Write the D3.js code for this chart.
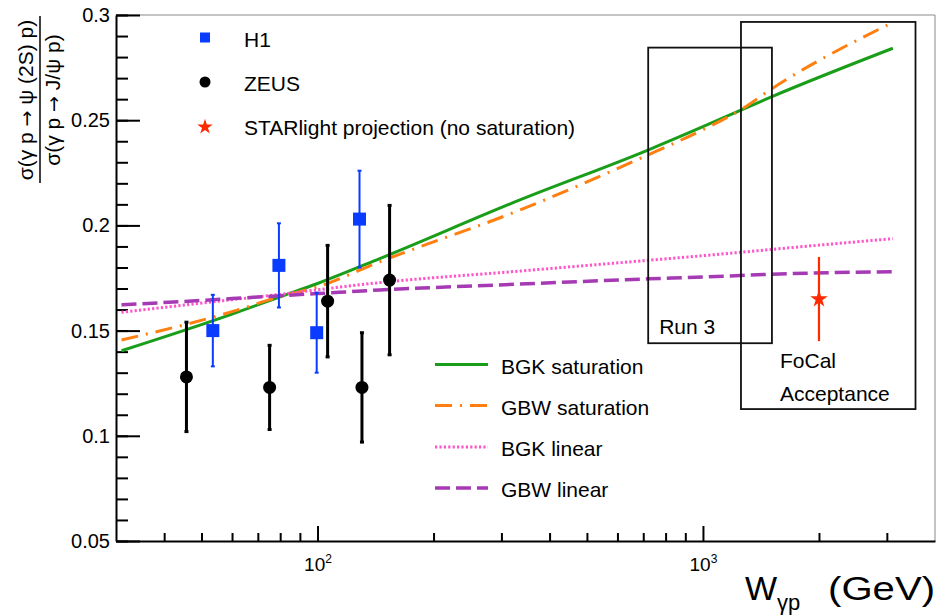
<!DOCTYPE html>
<html>
<head>
<meta charset="utf-8">
<script src="https://cdn.jsdelivr.net/npm/d3@7"></script>
<style>
  html, body { margin: 0; padding: 0; background: #fff; }
  svg text { font-family: "Liberation Sans", Arial, Helvetica, sans-serif; fill: #000; }
</style>
</head>
<body>
<svg id="chart" width="951" height="616"></svg>
<script>
// ---- measurements: ratio sigma(psi(2S)) / sigma(J/psi) vs W_gamma p ----
const h1W     = [53.5, 79.4, 99.5, 128.5];
const h1Ratio = [0.150, 0.181, 0.149, 0.203];
const h1Err   = [0.017, 0.020, 0.019, 0.023];

const zeusW     = [45.7, 75.1, 106.2, 130.4, 153.8];
const zeusRatio = [0.128, 0.123, 0.164, 0.123, 0.174];
const zeusErr   = [0.026, 0.020, 0.0265, 0.026, 0.0355];

const starlightW     = [2000];
const starlightRatio = [0.165];
const starlightErr   = [0.020];

// ---- model predictions, sampled in W ----
const modelW        = [31, 60, 80, 100, 145, 335, 720, 1000, 1250, 1510, 3110];
const bgkSaturation = [0.1404, 0.1578, 0.1661, 0.1724, 0.1842, 0.2121, 0.2358, 0.2469, 0.2547, 0.2612, 0.2842];
const gbwSaturation = [0.1455, 0.1590, 0.1662, 0.1708, 0.1827, 0.2073, 0.2335, 0.2455, 0.2548, 0.2650, 0.2965];
const bgkLinear     = [0.1587, 0.1647, 0.1672, 0.1694, 0.1728, 0.1783, 0.1834, 0.1856, 0.1872, 0.1886, 0.1937];
const gbwLinear     = [0.1622, 0.1652, 0.1666, 0.1676, 0.1693, 0.1721, 0.1746, 0.1755, 0.1762, 0.1768, 0.1780];

// ---- axis ticks ----
const xMajorTicks = [100, 1000];
const xMinorTicks = [40, 50, 60, 70, 80, 90, 200, 300, 400, 500, 600, 700, 800, 900, 2000, 3000];
const yMajorTicks = [0.05, 0.1, 0.15, 0.2, 0.25, 0.3];
const yMinorTicks = d3.range(5, 31).map(v => v / 100);

// ---- highlighted W regions [wLo, wHi, ratioLo, ratioHi] ----
const run3Region  = [721, 1510, 0.144, 0.2845];
const focalRegion = [1255, 3560, 0.1127, 0.2967];

const svg = d3.select("#chart");
const plot = { left: 116, right: 935, top: 15, bottom: 541 };

const x = d3.scaleLog().domain([30, 4000]).range([plot.left, plot.right]);
const y = d3.scaleLinear().domain([0.05, 0.3]).range([plot.bottom, plot.top]);

const colors = {
  h1: "#0a3cff",
  zeus: "#000000",
  star: "#ff2a00",
  bgkSat: "#1a9e1a",
  gbwSat: "#ff7f10",
  bgkLin: "#ff55c8",
  gbwLin: "#a63ab4"
};

const models = [
  { name: "BGK saturation", values: bgkSaturation, color: colors.bgkSat, dash: null, width: 3 },
  { name: "GBW saturation", values: gbwSaturation, color: colors.gbwSat, dash: "17,8,2,8", width: 3 },
  { name: "BGK linear",     values: bgkLinear,     color: colors.bgkLin, dash: "2.2,2.2", width: 3 },
  { name: "GBW linear",     values: gbwLinear,     color: colors.gbwLin, dash: "15,6", width: 3.5 }
];

// ---- frame (top and right edges) ----
svg.append("path")
  .attr("d", `M${plot.left},${plot.top}H${plot.right}V${plot.bottom}`)
  .attr("fill", "none").attr("stroke", "#8a8a8a").attr("stroke-width", 1);

// ---- y axis ----
const yMinorAxis = d3.axisLeft(y).tickValues(yMinorTicks).tickSize(-12).tickFormat("");
const yMajorAxis = d3.axisLeft(y).tickValues(yMajorTicks).tickSize(-24).tickSizeOuter(0)
  .tickPadding(6).tickFormat(d3.format("~g"));

const gyMinor = svg.append("g").attr("transform", `translate(${plot.left},0)`).call(yMinorAxis);
gyMinor.select(".domain").remove();
const gy = svg.append("g").attr("transform", `translate(${plot.left},0)`).call(yMajorAxis);
[gyMinor, gy].forEach(g => g.selectAll("line").attr("stroke", "#000").attr("stroke-width", 2));
gy.select(".domain").attr("stroke", "#000").attr("stroke-width", 2);
gy.selectAll("text").attr("font-size", 20).attr("font-family", "Liberation Sans, Arial, sans-serif");

// ---- x axis ----
const xMinorAxis = d3.axisBottom(x).tickValues(xMinorTicks).tickSize(-8).tickFormat("");
const xMajorAxis = d3.axisBottom(x).tickValues(xMajorTicks).tickSize(-15).tickSizeOuter(0)
  .tickPadding(17).tickFormat("");

const gxMinor = svg.append("g").attr("transform", `translate(0,${plot.bottom})`).call(xMinorAxis);
gxMinor.select(".domain").remove();
const gx = svg.append("g").attr("transform", `translate(0,${plot.bottom})`).call(xMajorAxis);
[gxMinor, gx].forEach(g => g.selectAll("line").attr("stroke", "#000").attr("stroke-width", 2));
gx.select(".domain").attr("stroke", "#000").attr("stroke-width", 2);
gx.selectAll(".tick text").each(function (d) {
  const t = d3.select(this).attr("font-size", 19).attr("font-family", "Liberation Sans, Arial, sans-serif")
    .attr("dy", null).attr("y", 30);
  t.text(null);
  t.append("tspan").text("10");
  t.append("tspan").attr("font-size", 12).attr("dy", -8).text(Math.round(Math.log10(d)));
});

// ---- axis titles ----
const xTitle = svg.append("g").attr("font-family", "Liberation Sans, Arial, sans-serif");
const wText = xTitle.append("text").attr("x", 745).attr("y", 600);
wText.append("tspan").attr("font-size", 34).text("W");
wText.append("tspan").attr("font-size", 22).attr("dy", 10).text("γp");
xTitle.append("text").attr("transform", "translate(935,600) scale(1.18,1)")
  .attr("font-size", 34).attr("text-anchor", "end").text("(GeV)");

const arrow = "DejaVu Sans, sans-serif";
const yTitle = svg.append("g").attr("font-size", 21);
const num = yTitle.append("text").attr("transform", "translate(33,100) rotate(-90)")
  .attr("text-anchor", "middle");
num.append("tspan").text("σ(γ p ");
num.append("tspan").attr("font-family", arrow).attr("font-size", 19).text("→");
num.append("tspan").text(" ψ (2S) p)");
const den = yTitle.append("text").attr("transform", "translate(60,100) rotate(-90)")
  .attr("text-anchor", "middle");
den.append("tspan").text("σ(γ p ");
den.append("tspan").attr("font-family", arrow).attr("font-size", 19).text("→");
den.append("tspan").text(" J/ψ p)");
yTitle.append("line").attr("x1", 40).attr("x2", 40).attr("y1", 16).attr("y2", 183)
  .attr("stroke", "#000").attr("stroke-width", 1.5);

// ---- model curves ----
const line = d3.line().curve(d3.curveMonotoneX);
const curves = svg.append("g").attr("fill", "none").attr("stroke-linecap", "butt");
models.forEach(m => {
  curves.append("path")
    .attr("d", line(modelW.map((w, i) => [x(w), y(m.values[i])])))
    .attr("stroke", m.color).attr("stroke-width", m.width)
    .attr("stroke-dasharray", m.dash);
});

// ---- highlighted regions ----
const regions = svg.append("g").attr("fill", "none").attr("stroke", "#111").attr("stroke-width", 1.8);
[run3Region, focalRegion].forEach(r => {
  regions.append("rect")
    .attr("x", x(r[0])).attr("y", y(r[3]))
    .attr("width", x(r[1]) - x(r[0])).attr("height", y(r[2]) - y(r[3]));
});
const regionLabels = svg.append("g").attr("font-size", 21);
regionLabels.append("text").attr("x", x(run3Region[0]) + 11).attr("y", 334).text("Run 3");
regionLabels.append("text").attr("x", 780).attr("y", 368).text("FoCal");
regionLabels.append("text").attr("x", 780).attr("y", 401).text("Acceptance");

// ---- error bars ----
function errorBars(ws, vals, errs, color, width, cap) {
  const g = svg.append("g").attr("stroke", color).attr("stroke-width", width);
  ws.forEach((w, i) => {
    const cx = x(w), yLo = y(vals[i] - errs[i]), yHi = y(vals[i] + errs[i]);
    g.append("line").attr("x1", cx).attr("x2", cx).attr("y1", yLo).attr("y2", yHi);
    if (cap > 0) {
      g.append("line").attr("x1", cx - cap / 2).attr("x2", cx + cap / 2).attr("y1", yLo).attr("y2", yLo);
      g.append("line").attr("x1", cx - cap / 2).attr("x2", cx + cap / 2).attr("y1", yHi).attr("y2", yHi);
    }
  });
}
errorBars(h1W, h1Ratio, h1Err, colors.h1, 2, 4);
errorBars(zeusW, zeusRatio, zeusErr, colors.zeus, 3, 4);
errorBars(starlightW, starlightRatio, starlightErr, colors.star, 2.2, 0);

// ---- markers ----
const sq = 13;
svg.append("g").selectAll("rect").data(h1W).join("rect")
  .attr("x", (w) => x(w) - sq / 2).attr("y", (w, i) => y(h1Ratio[i]) - sq / 2)
  .attr("width", sq).attr("height", sq).attr("fill", colors.h1);
svg.append("g").selectAll("circle").data(zeusW).join("circle")
  .attr("cx", (w) => x(w)).attr("cy", (w, i) => y(zeusRatio[i])).attr("r", 6.5)
  .attr("fill", colors.zeus);
const starSym = d3.symbol().type(d3.symbolStar).size(95);
svg.append("g").selectAll("path").data(starlightW).join("path")
  .attr("transform", (w, i) => `translate(${x(w)},${y(starlightRatio[i])})`)
  .attr("d", starSym).attr("fill", colors.star);

// ---- data legend ----
const dataLegend = svg.append("g").attr("font-size", 21);
dataLegend.append("rect").attr("x", 200).attr("y", 32.5).attr("width", 10).attr("height", 10)
  .attr("fill", colors.h1);
dataLegend.append("circle").attr("cx", 205).attr("cy", 82).attr("r", 5.5).attr("fill", colors.zeus);
dataLegend.append("path").attr("transform", "translate(205,127)")
  .attr("d", d3.symbol().type(d3.symbolStar).size(75)).attr("fill", colors.star);
dataLegend.append("text").attr("x", 244).attr("y", 47).text("H1");
dataLegend.append("text").attr("x", 244).attr("y", 91).text("ZEUS");
dataLegend.append("text").attr("x", 244).attr("y", 135).text("STARlight projection (no saturation)");

// ---- model legend ----
const legendY = [364.5, 405.5, 447, 488];
const modelLegend = svg.append("g").attr("font-size", 21);
models.forEach((m, i) => {
  modelLegend.append("line").attr("x1", 435).attr("x2", 488)
    .attr("y1", legendY[i]).attr("y2", legendY[i])
    .attr("stroke", m.color).attr("stroke-width", m.width).attr("stroke-dasharray", m.dash);
  modelLegend.append("text").attr("x", 501).attr("y", legendY[i] + 9).text(m.name);
});
</script>
</body>
</html>
